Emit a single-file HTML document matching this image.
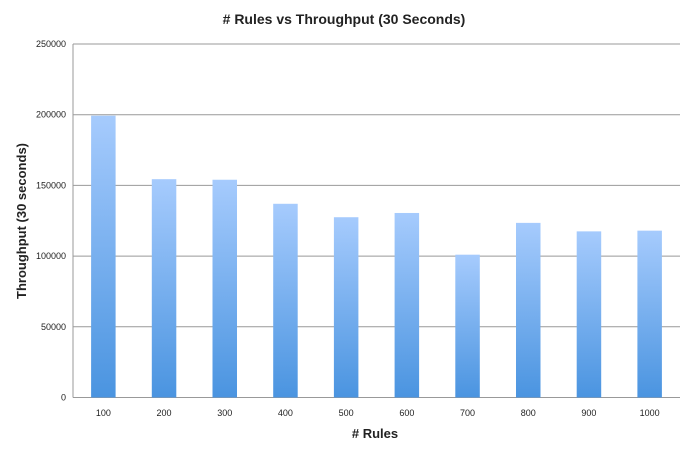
<!DOCTYPE html>
<html><head><meta charset="utf-8"><style>
body{margin:0;background:#fff;font-family:"Liberation Sans",sans-serif}
</style></head><body>
<svg id="c" width="688" height="450" xmlns="http://www.w3.org/2000/svg">
<defs><linearGradient id="g" x1="0" y1="0" x2="0" y2="1"><stop offset="0" stop-color="#a6cbfd"/><stop offset="1" stop-color="#4a94e0"/></linearGradient></defs>
<text x="344" y="24" text-anchor="middle" font-size="14" font-weight="bold" fill="#222"># Rules vs Throughput (30 Seconds)</text>
<text x="375" y="438" text-anchor="middle" font-size="13" font-weight="bold" fill="#222"># Rules</text>
<text transform="translate(26,221) rotate(-90)" text-anchor="middle" font-size="13" font-weight="bold" fill="#222">Throughput (30 seconds)</text>
<g id="grid"></g><g id="bars"></g><g id="labels"></g>
</svg>
<script>
const categories=["100","200","300","400","500","600","700","800","900","1000"];
const values=[199300,154400,154000,137000,127500,130500,101000,123500,117500,118000];
const yTicks=[0,50000,100000,150000,200000,250000];
const L=73,R=680,T=44,B=397.5,max=250000;
const y=v=>B-(v/max)*(B-T);
const step=(R-L)/categories.length;
const x=i=>L+step*(i+0.5);
const ns="http://www.w3.org/2000/svg";
const mk=(t,a,p)=>{const e=document.createElementNS(ns,t);for(const k in a)e.setAttribute(k,a[k]);p.appendChild(e);return e;};
const grid=document.getElementById('grid'),bars=document.getElementById('bars'),labels=document.getElementById('labels');
yTicks.forEach(v=>{
 const l=mk('line',{x1:L,x2:R,y1:y(v),y2:y(v),stroke:'#999','stroke-width':1},grid);
 
 
 const t=mk('text',{x:L-7,y:y(v)+3,'text-anchor':'end','font-size':9,fill:'#222'},labels);
 t.textContent=v;
 
 
});
const ax=mk('line',{x1:L,x2:L,y1:T,y2:B,stroke:'#999','stroke-width':1},grid);


categories.forEach((c,i)=>{
 const bw=24.5;
 const r=mk('rect',{x:x(i)-bw/2,y:y(values[i]),width:bw,height:B-y(values[i]),fill:'url(#g)'},bars);
 
 
 const t=mk('text',{x:x(i),y:416,'text-anchor':'middle','font-size':9,fill:'#222'},labels);
 t.textContent=c;
 
 
});
</script>
</body></html>
